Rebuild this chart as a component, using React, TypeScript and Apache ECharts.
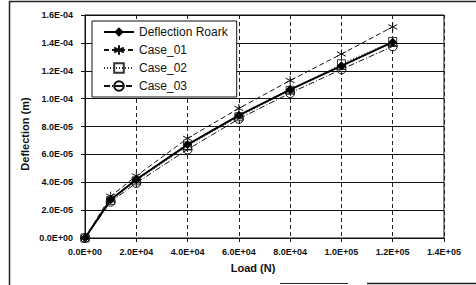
import React, { useEffect, useRef } from "react";
import * as echarts from "echarts";

const loads = [0, 1e4, 2e4, 4e4, 6e4, 8e4, 1e5, 1.2e5];
const roark = [0, 2.75e-5, 4.2e-5, 6.7e-5, 8.8e-5, 1.065e-4, 1.235e-4, 1.405e-4];
const case01 = [0, 3.0e-5, 4.45e-5, 7.15e-5, 9.3e-5, 1.13e-4, 1.32e-4, 1.515e-4];
const case02 = [0, 2.7e-5, 4.1e-5, 6.6e-5, 8.7e-5, 1.06e-4, 1.25e-4, 1.41e-4];
const case03 = [0, 2.6e-5, 3.95e-5, 6.35e-5, 8.55e-5, 1.04e-4, 1.21e-4, 1.375e-4];
const seriesNames = ["Deflection Roark", "Case_01", "Case_02", "Case_03"];
const xTitle = "Load (N)";
const yTitle = "Deflection (m)";

const FONT = "Liberation Sans, Arial, sans-serif";

function sci(v: number): string {
  const [m, e] = v.toExponential(1).split("e");
  const n = parseInt(e, 10);
  const sign = n < 0 ? "-" : "+";
  const d = String(Math.abs(n)).padStart(2, "0");
  return `${m}E${sign}${d}`;
}

const pairs = (ys: number[]) => loads.map((x, i) => [x, ys[i]]);

const asterisk = "path://M5,0L5,10M0.7,2.5L9.3,7.5M0.7,7.5L9.3,2.5";
const circleBar = "path://M0,5A5,5 0 1,1 10,5A5,5 0 1,1 0,5ZM0,5L10,5";

export default function App() {
  const ref = useRef<HTMLDivElement>(null);
  useEffect(() => {
    if (!ref.current) return;
    const chart = echarts.init(ref.current, null, { renderer: "svg" });
    chart.setOption({
      animation: false,
      backgroundColor: "#fff",
      textStyle: { fontFamily: FONT },
      grid: { left: 85, top: 15, right: 32, bottom: 47, show: true, borderColor: "#111", borderWidth: 1, containLabel: false },
      legend: {
        orient: "vertical",
        left: 92,
        top: 21,
        padding: [5, 9, 5, 11],
        itemWidth: 30,
        itemHeight: 12,
        itemGap: 6,
        backgroundColor: "#fff",
        borderColor: "#111",
        borderWidth: 1,
        borderRadius: 0,
        textStyle: { fontFamily: FONT, fontSize: 12, color: "#111" },
        data: seriesNames,
      },
      xAxis: {
        type: "value",
        min: 0,
        max: 1.4e5,
        interval: 2e4,
        axisLine: { show: true, lineStyle: { color: "#111" } },
        axisTick: { show: true, length: 4, lineStyle: { color: "#111" } },
        axisLabel: { formatter: sci, fontSize: 9, fontWeight: "bold", color: "#111", margin: 9, fontFamily: FONT },
        splitLine: { show: true, lineStyle: { color: "#222", type: [4, 3], width: 1 } },
      },
      yAxis: {
        type: "value",
        min: 0,
        max: 1.6e-4,
        interval: 2e-5,
        axisLine: { show: true, lineStyle: { color: "#111" } },
        axisTick: { show: true, length: 4, lineStyle: { color: "#111" } },
        axisLabel: { formatter: sci, fontSize: 9, fontWeight: "bold", color: "#111", margin: 12, fontFamily: FONT },
        splitLine: { show: true, lineStyle: { color: "#111", width: 1 } },
      },
      series: [
        {
          name: seriesNames[0],
          type: "line",
          data: pairs(roark),
          symbol: "diamond",
          symbolSize: 9,
          z: 5,
          lineStyle: { color: "#000", width: 2 },
          itemStyle: { color: "#000" },
        },
        {
          name: seriesNames[1],
          type: "line",
          data: pairs(case01),
          symbol: asterisk,
          symbolSize: 9,
          lineStyle: { color: "#111", width: 1, type: [5, 3] },
          itemStyle: { color: "rgba(0,0,0,0)", borderColor: "#111", borderWidth: 1 },
        },
        {
          name: seriesNames[2],
          type: "line",
          data: pairs(case02),
          symbol: "rect",
          symbolSize: 8,
          lineStyle: { color: "#333", width: 1, type: [1, 2] },
          itemStyle: { color: "rgba(255,255,255,0)", borderColor: "#333", borderWidth: 1 },
        },
        {
          name: seriesNames[3],
          type: "line",
          data: pairs(case03),
          symbol: circleBar,
          symbolSize: 9,
          lineStyle: { color: "#111", width: 1, type: [6, 2, 1, 2] },
          itemStyle: { color: "rgba(255,255,255,0)", borderColor: "#111", borderWidth: 1 },
        },
      ],
      graphic: [
        { type: "line", shape: { x1: 9, y1: 1.5, x2: 476, y2: 1.5 }, style: { stroke: "#222", lineWidth: 1.5 } },
        { type: "line", shape: { x1: 9.5, y1: 1, x2: 9.5, y2: 285 }, style: { stroke: "#222", lineWidth: 1.5 } },
        { type: "line", shape: { x1: 280, y1: 283.5, x2: 348, y2: 283.5 }, style: { stroke: "#222", lineWidth: 1 } },
        { type: "line", shape: { x1: 367, y1: 283.5, x2: 476, y2: 283.5 }, style: { stroke: "#222", lineWidth: 1.5 } },
        {
          type: "text",
          x: 253,
          y: 268,
          style: { text: xTitle, fontSize: 11, fontWeight: "bold", fill: "#111", fontFamily: FONT, align: "center", verticalAlign: "middle" },
        },
        {
          type: "text",
          x: 25,
          y: 134,
          rotation: Math.PI / 2,
          style: { text: yTitle, fontSize: 11, fontWeight: "bold", fill: "#111", fontFamily: FONT, align: "center", verticalAlign: "middle" },
        },
      ],
    });
    return () => chart.dispose();
  }, []);
  return <div ref={ref} style={{ width: 476, height: 285, position: "absolute", left: 0, top: 0 }} />;
}
